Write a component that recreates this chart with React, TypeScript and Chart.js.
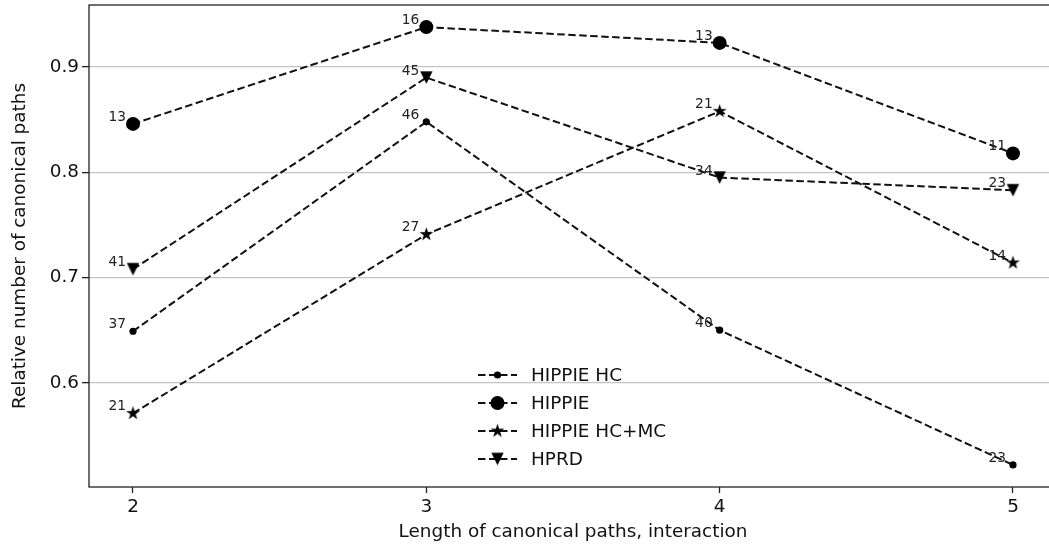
import React, { useEffect, useRef } from "react";
import { Chart, registerables } from "chart.js";

Chart.register(...registerables);

// ---------- data ----------
const xValues = [2, 3, 4, 5];
const seriesNames = ["HIPPIE HC", "HIPPIE", "HIPPIE HC+MC", "HPRD"];
const hippieHC = [0.649, 0.848, 0.65, 0.522];
const hippie = [0.846, 0.938, 0.923, 0.818];
const hippieHCMC = [0.571, 0.741, 0.858, 0.714];
const hprd = [0.708, 0.89, 0.795, 0.783];
const hippieHCCounts = [37, 46, 40, 23];
const hippieCounts = [13, 16, 13, 11];
const hippieHCMCCounts = [21, 27, 21, 14];
const hprdCounts = [41, 45, 34, 23];
const xTicks = [2, 3, 4, 5];
const yTicks = [0.6, 0.7, 0.8, 0.9];
const xTitle = "Length of canonical paths, interaction";
const yTitle = "Relative number of canonical paths";

const X_MIN = 1.85;
const X_MAX = 5.15;
const Y_MIN = 0.501;
const Y_MAX = 0.959;

const FONT = "'DejaVu Sans', sans-serif";
const FS = 18.4;
const INK = "#111111";
const LINE = "#111111";
const DASH = [7.5, 3.5];

function makeStar(R: number): HTMLCanvasElement {
  const s = Math.ceil(R * 2 + 2);
  const c = document.createElement("canvas");
  c.width = s;
  c.height = s;
  const ctx = c.getContext("2d")!;
  const cx = s / 2;
  const cy = s / 2;
  ctx.fillStyle = "#000";
  ctx.beginPath();
  for (let i = 0; i < 10; i++) {
    const r = i % 2 === 0 ? R : R * 0.382;
    const a = -Math.PI / 2 + (i * Math.PI) / 5;
    const px = cx + r * Math.cos(a);
    const py = cy + r * Math.sin(a);
    if (i === 0) ctx.moveTo(px, py);
    else ctx.lineTo(px, py);
  }
  ctx.closePath();
  ctx.fill();
  return c;
}

function makeTriangleDown(h: number): HTMLCanvasElement {
  const s = Math.ceil(h * 2 + 2);
  const c = document.createElement("canvas");
  c.width = s;
  c.height = s;
  const ctx = c.getContext("2d")!;
  const cx = s / 2;
  const cy = s / 2;
  ctx.fillStyle = "#000";
  ctx.beginPath();
  ctx.moveTo(cx - h, cy - h);
  ctx.lineTo(cx + h, cy - h);
  ctx.lineTo(cx, cy + h);
  ctx.closePath();
  ctx.fill();
  return c;
}

export default function App() {
  const ref = useRef<HTMLCanvasElement | null>(null);

  useEffect(() => {
    if (!ref.current) return;
    const star = makeStar(7.3);
    const tri = makeTriangleDown(6.2);

    const seriesValues = [hippieHC, hippie, hippieHCMC, hprd];
    const seriesCounts = [hippieHCCounts, hippieCounts, hippieHCMCCounts, hprdCounts];
    const styles: any[] = ["circle", "circle", star, tri];
    const radii = [3.6, 7, 7, 7];

    const datasets = seriesValues.map((vals, i) => ({
      label: seriesNames[i],
      data: xValues.map((x, j) => ({ x, y: vals[j] })),
      borderColor: LINE,
      borderWidth: 2,
      borderDash: DASH,
      backgroundColor: "#000",
      pointStyle: styles[i],
      pointRadius: radii[i],
      pointBackgroundColor: "#000",
      pointBorderColor: "#000",
      pointBorderWidth: 0,
      tension: 0,
      fill: false,
      showLine: true,
    }));

    const annotatePlugin = {
      id: "annot",
      afterDatasetsDraw(chart: any) {
        const ctx = chart.ctx;
        ctx.save();
        ctx.font = `13.8px ${FONT}`;
        ctx.fillStyle = "#222";
        ctx.textAlign = "right";
        ctx.textBaseline = "alphabetic";
        seriesCounts.forEach((counts, i) => {
          const meta = chart.getDatasetMeta(i);
          counts.forEach((n, j) => {
            const el = meta.data[j];
            ctx.fillText(String(n), el.x - 7, el.y - 3);
          });
        });
        ctx.restore();
      },
    };

    const framePlugin = {
      id: "frame",
      afterDraw(chart: any) {
        const { ctx, chartArea: a } = chart;
        ctx.save();
        ctx.strokeStyle = "#222";
        ctx.lineWidth = 1.3;
        ctx.strokeRect(a.left, a.top, a.right - a.left, a.bottom - a.top);
        ctx.restore();
      },
    };

    const legendPlugin = {
      id: "customLegend",
      afterDraw(chart: any) {
        const ctx = chart.ctx;
        ctx.save();
        seriesNames.forEach((name, i) => {
          const y = 375 + 28 * i;
          ctx.strokeStyle = LINE;
          ctx.lineWidth = 2;
          ctx.setLineDash(DASH);
          ctx.beginPath();
          ctx.moveTo(478, y);
          ctx.lineTo(517, y);
          ctx.stroke();
          ctx.setLineDash([]);
          const st = styles[i];
          if (st === "circle") {
            ctx.fillStyle = "#000";
            ctx.beginPath();
            ctx.arc(497.5, y, radii[i], 0, Math.PI * 2);
            ctx.fill();
          } else {
            ctx.drawImage(st, 497.5 - st.width / 2, y - st.height / 2);
          }
          ctx.fillStyle = INK;
          ctx.font = `${FS}px ${FONT}`;
          ctx.textAlign = "left";
          ctx.textBaseline = "middle";
          ctx.fillText(name, 531, y + 1);
        });
        ctx.restore();
      },
    };

    const chart = new Chart(ref.current, {
      type: "line",
      data: { datasets },
      options: {
        responsive: false,
        animation: false,
        devicePixelRatio: 1,
        layout: { autoPadding: false, padding: { top: 5, right: 3, left: 0, bottom: 0 } },
        plugins: {
          legend: { display: false },
          tooltip: { enabled: false },
        },
        scales: {
          x: {
            type: "linear",
            min: X_MIN,
            max: X_MAX,
            afterBuildTicks: (s: any) => {
              s.ticks = xTicks.map((v) => ({ value: v }));
            },
            afterFit: (s: any) => {
              s.height = 59;
              s.paddingLeft = 0;
              s.paddingRight = 0;
            },
            grid: {
              drawOnChartArea: false,
              drawTicks: true,
              tickLength: 6,
              tickColor: "#222",
              tickWidth: 1.3,
            },
            border: { display: false },
            ticks: {
              padding: 3,
              color: INK,
              font: { family: FONT, size: FS },
              maxRotation: 0,
              autoSkip: false,
              callback: (v: any) => String(v),
            },
            title: {
              display: true,
              text: xTitle,
              color: INK,
              font: { family: FONT, size: FS },
              padding: { top: 0, bottom: 3 },
            },
          },
          y: {
            type: "linear",
            min: Y_MIN,
            max: Y_MAX,
            afterBuildTicks: (s: any) => {
              s.ticks = yTicks.map((v) => ({ value: v }));
            },
            afterFit: (s: any) => {
              s.width = 89;
              s.paddingTop = 0;
              s.paddingBottom = 0;
            },
            grid: {
              color: "#c4c4c4",
              lineWidth: 1.3,
              drawTicks: true,
              tickLength: 7,
              tickColor: "#222",
              tickWidth: 1.3,
            },
            border: { display: false },
            ticks: {
              padding: 3,
              color: INK,
              font: { family: FONT, size: FS },
              autoSkip: false,
              callback: (v: any) => Number(v).toFixed(1),
            },
            title: {
              display: true,
              text: yTitle,
              color: INK,
              font: { family: FONT, size: FS },
              padding: { top: 9, bottom: 0 },
            },
          },
        },
      },
      plugins: [annotatePlugin, framePlugin, legendPlugin],
    } as any);

    return () => chart.destroy();
  }, []);

  return (
    <div
      style={{
        position: "absolute",
        left: 0,
        top: 0,
        width: 1049,
        height: 546,
        overflow: "hidden",
        background: "#fff",
      }}
    >
      <canvas ref={ref} width={1060} height={546} style={{ display: "block" }} />
    </div>
  );
}
